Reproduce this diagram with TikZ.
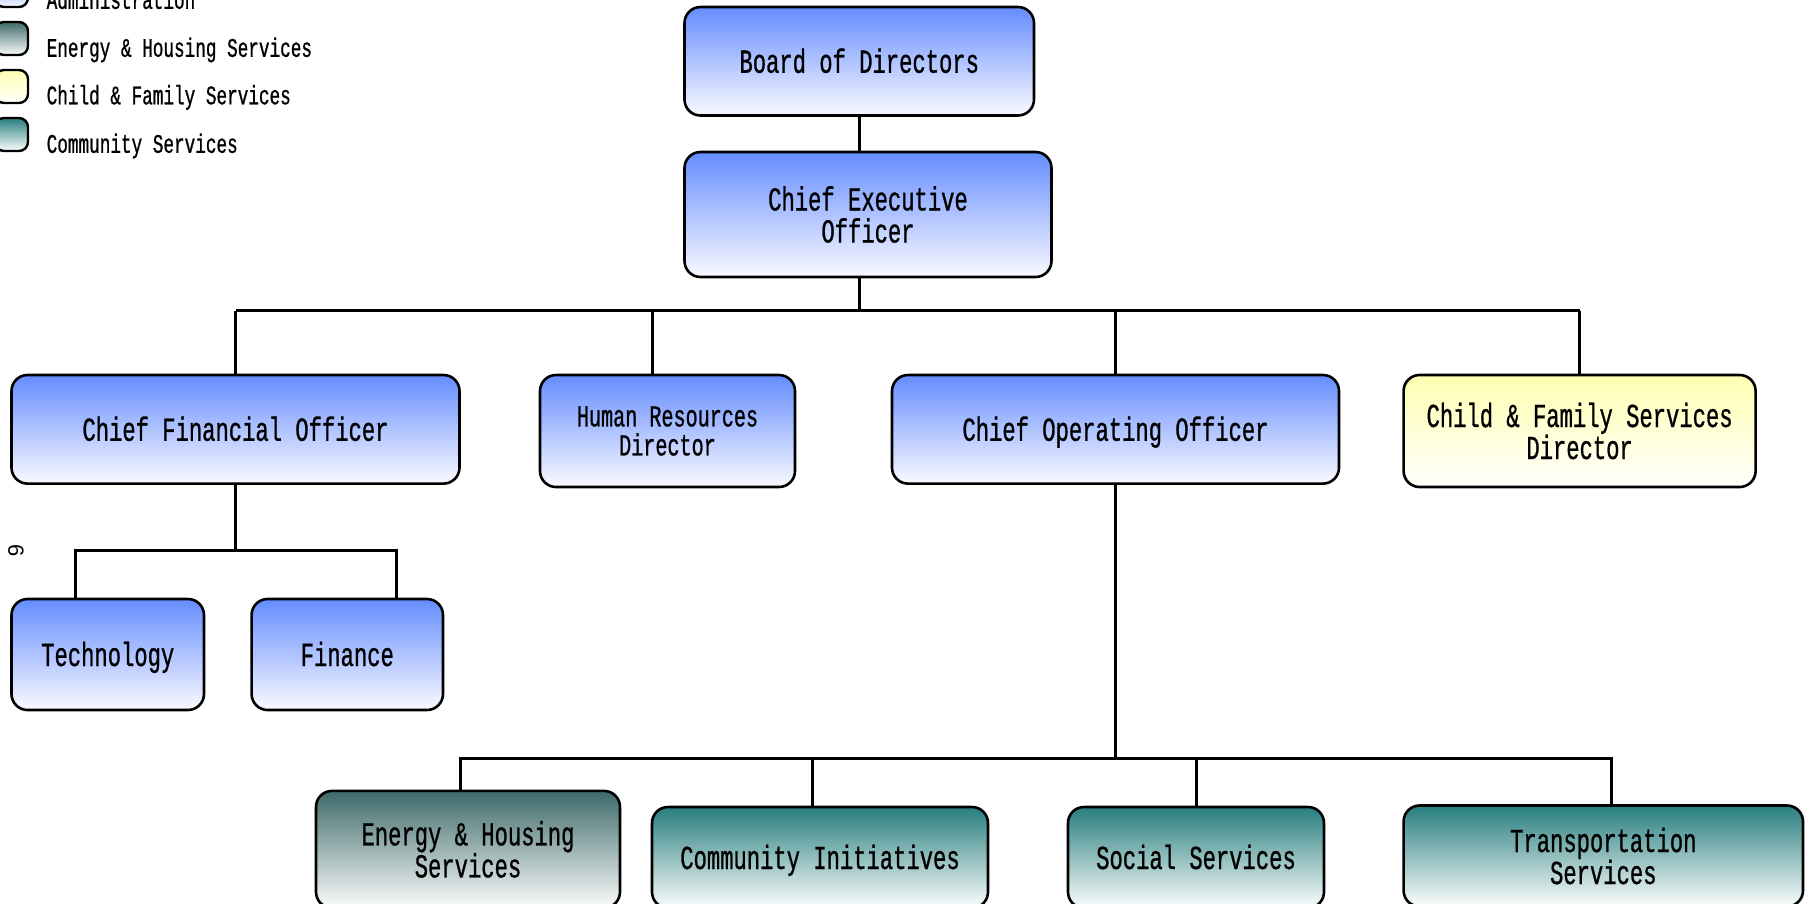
\documentclass[tikz,border=0pt]{standalone}
\usepackage{fontspec}
\newfontfamily\orgfont[FakeStretch=0.66,FakeBold=0.8]{Liberation Mono}
\newfontfamily\digitfont{Liberation Sans}
\usetikzlibrary{calc}

\definecolor{admTop}{RGB}{100,140,255}
\definecolor{admBot}{RGB}{250,250,255}
\definecolor{ehsTop}{RGB}{62,106,106}
\definecolor{ehsBot}{RGB}{252,252,252}
\definecolor{cfsTop}{RGB}{255,255,178}
\definecolor{cfsBot}{RGB}{255,255,252}
\definecolor{comTop}{RGB}{40,126,126}
\definecolor{comBot}{RGB}{252,253,253}

\tikzset{
  orgbox/.style={draw=black, line width=2.6pt, rounded corners=16pt,
    align=center, inner sep=0pt,
    font=\orgfont\fontsize{33.6}{32}\selectfont},
  oneline/.style={text height=25pt, text depth=2pt},
  adminbox/.style={orgbox, top color=admTop, bottom color=admBot},
  ehsbox/.style={orgbox, top color=ehsTop, bottom color=ehsBot},
  cfsbox/.style={orgbox, top color=cfsTop, bottom color=cfsBot},
  combox/.style={orgbox, top color=comTop, bottom color=comBot},
  legsw/.style={draw=black, line width=2.4pt, rounded corners=9pt,
    minimum width=33pt, minimum height=33pt, inner sep=0pt},
  legtext/.style={anchor=base west, inner sep=0pt,
    font=\orgfont\fontsize{26.8}{30}\selectfont},
  wire/.style={draw=black, line width=3pt}
}

\begin{document}
\begin{tikzpicture}[x=1pt, y=-1pt]
\useasboundingbox (0,0) rectangle (1810,903);
\clip (0,0) rectangle (1810,903);
\fill[white] (0,0) rectangle (1810,903);

% legend
\node[legsw, top color=admTop, bottom color=admBot] (swA) at (11.5,-9.5) {};
\node[legsw, top color=ehsTop, bottom color=ehsBot] (swE) at (11.5,38.5) {};
\node[legsw, top color=cfsTop, bottom color=cfsBot] (swC) at (11.5,86.5) {};
\node[legsw, top color=comTop, bottom color=comBot] (swS) at (11.5,134.5) {};
\node[legtext] (ltA) at (46.5,8.8) {Administration};
\node[legtext] (ltE) at (46.5,56.8) {Energy \& Housing Services};
\node[legtext] (ltC) at (46.5,104.3) {Child \& Family Services};
\node[legtext] (ltS) at (46.5,152.8) {Community Services};

% stray page number
\node[font=\digitfont\fontsize{22}{24}\selectfont, rotate=-90, inner sep=0pt] (pg) at (16,551) {6};

% top of the chart
\node[adminbox, oneline, minimum width=349.5pt, minimum height=108.5pt] (bod) at (859.25,61.25) {Board of Directors};
\node[adminbox, minimum width=367pt, minimum height=125pt] (ceo) at (868,214.5) {Chief Executive\\Officer};

% second level
\node[adminbox, oneline, minimum width=448pt, minimum height=108.6pt] (cfo) at (235.5,429.3) {Chief Financial Officer};
\node[adminbox, minimum width=255pt, minimum height=112pt, font=\orgfont\fontsize{30.5}{29}\selectfont] (hr) at (667.5,431) {Human Resources\\Director};
\node[adminbox, oneline, minimum width=447pt, minimum height=108.6pt] (coo) at (1115.5,429.3) {Chief Operating Officer};
\node[cfsbox, minimum width=352pt, minimum height=112pt] (cfs) at (1579.6,431) {Child \& Family Services\\Director};

% finance branch
\node[adminbox, oneline, minimum width=192.5pt, minimum height=111pt] (tech) at (107.75,654.5) {Technology};
\node[adminbox, oneline, minimum width=191.4pt, minimum height=111pt] (fin) at (347.3,654.5) {Finance};

% operations branch
\node[ehsbox, minimum width=304pt, minimum height=117pt] (ehs) at (468,849.4) {Energy \& Housing\\Services};
\node[combox, oneline, minimum width=336pt, minimum height=101pt] (ci) at (820,857.5) {Community Initiatives};
\node[combox, oneline, minimum width=256pt, minimum height=101pt] (ss) at (1196,857.5) {Social Services};
\node[combox, minimum width=399.4pt, minimum height=101pt] (ts) at (1603.3,856) {Transportation\\Services};

% bus levels
\coordinate (bus) at (0,310.5);
\coordinate (finbus) at (0,550.6);
\coordinate (opbus) at (0,758.4);

% connectors
\draw[wire] (bod.south) -- (bod.south |- ceo.north);
\draw[wire] (bod.south |- ceo.south) -- (bod.south |- bus);
\draw[wire] (cfo.north |- bus) -- (cfs.north |- bus);
\draw[wire] (cfo.north |- bus) -- (cfo.north);
\draw[wire] ([xshift=-15.5pt]hr.north |- bus) -- ([xshift=-15.5pt]hr.north);
\draw[wire] (coo.north |- bus) -- (coo.north);
\draw[wire] (cfs.north |- bus) -- (cfs.north);

\draw[wire] (cfo.south) -- (cfo.south |- finbus);
\draw[wire] ([xshift=-31.8pt]tech.north) |- ([xshift=48.7pt]fin.north |- finbus) -- ([xshift=48.7pt]fin.north);

\draw[wire] (coo.south) -- (coo.south |- opbus);
\draw[wire] ([xshift=-7.4pt]ehs.north) |- ([xshift=8.1pt]ts.north |- opbus) -- ([xshift=8.1pt]ts.north);
\draw[wire] ([xshift=-7.4pt]ci.north) -- ([xshift=-7.4pt]ci.north |- opbus);
\draw[wire] (ss.north) -- (ss.north |- opbus);
\end{tikzpicture}
\end{document}
